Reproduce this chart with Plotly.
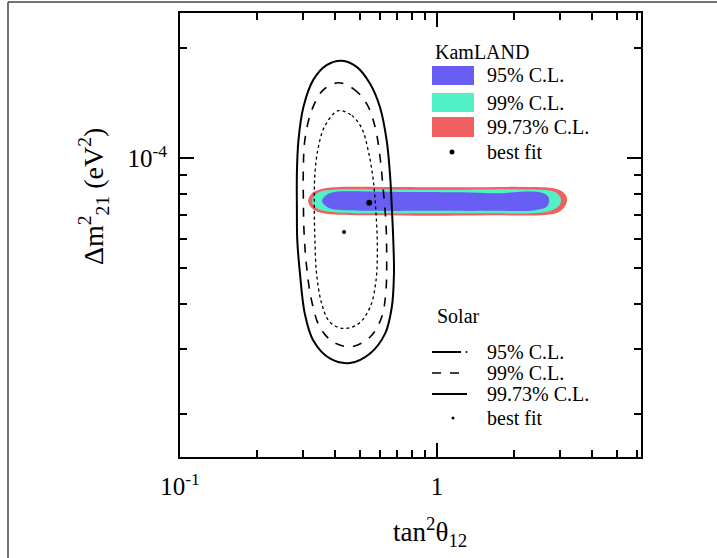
import plotly.graph_objects as go

# ---------------- data (tan^2 theta12, delta m^2_21 [eV^2]) ----------------
# Solar contours
solar9973_x = [0.426, 0.487, 0.549, 0.600, 0.637, 0.656, 0.667, 0.676, 0.680, 0.667, 0.628, 0.549,
               0.459, 0.383, 0.330, 0.306, 0.293, 0.286, 0.285, 0.285, 0.289, 0.302, 0.330, 0.372, 0.426]
solar9973_y = [1.85e-4, 1.78e-4, 1.60e-4, 1.38e-4, 1.12e-4, 9.08e-5, 7.36e-5, 5.96e-5, 4.83e-5, 3.91e-5,
               3.31e-5, 2.92e-5, 2.75e-5, 2.83e-5, 3.17e-5, 3.75e-5, 4.83e-5, 5.96e-5, 7.36e-5, 9.08e-5,
               1.12e-4, 1.38e-4, 1.64e-4, 1.80e-4, 1.85e-4]

solar99_x = [0.413, 0.473, 0.533, 0.574, 0.600, 0.618, 0.633, 0.637, 0.633, 0.609, 0.549, 0.466,
             0.395, 0.350, 0.325, 0.311, 0.304, 0.302, 0.302, 0.306, 0.325, 0.361, 0.413]
solar99_y = [1.61e-4, 1.55e-4, 1.41e-4, 1.22e-4, 1.01e-4, 8.17e-5, 6.63e-5, 5.37e-5, 4.35e-5, 3.67e-5,
             3.24e-5, 3.05e-5, 3.14e-5, 3.45e-5, 4.08e-5, 5.04e-5, 6.22e-5, 7.67e-5, 9.47e-5, 1.12e-4,
             1.35e-4, 1.54e-4, 1.61e-4]

solar95_x = [0.413, 0.466, 0.509, 0.540, 0.565, 0.579, 0.586, 0.579, 0.549, 0.494, 0.432, 0.383,
             0.356, 0.340, 0.335, 0.333, 0.335, 0.345, 0.367, 0.413]
solar95_y = [1.35e-4, 1.31e-4, 1.21e-4, 1.05e-4, 8.71e-5, 7.06e-5, 5.71e-5, 4.63e-5, 3.91e-5, 3.52e-5,
             3.42e-5, 3.56e-5, 4.00e-5, 4.83e-5, 5.96e-5, 7.36e-5, 9.08e-5, 1.07e-4, 1.23e-4, 1.35e-4]

solar_best = (0.435, 6.28e-5)

# KamLAND allowed regions
kam9973_x = [0.315, 0.326, 0.350, 0.401, 0.600, 1.229, 2.104, 2.753, 3.065, 3.205, 3.148, 2.957,
             2.632, 1.608, 0.939, 0.600, 0.401, 0.350, 0.326, 0.315]
kam9973_y = [7.63e-5, 8.02e-5, 8.22e-5, 8.33e-5, 8.35e-5, 8.33e-5, 8.35e-5, 8.30e-5, 8.12e-5, 7.77e-5,
             7.39e-5, 7.11e-5, 7.00e-5, 6.98e-5, 6.96e-5, 6.98e-5, 7.02e-5, 7.11e-5, 7.30e-5, 7.63e-5]

kam99_x = [0.326, 0.338, 0.360, 0.408, 0.600, 1.229, 2.104, 2.703, 2.931, 3.038, 2.984, 2.803,
           2.517, 1.608, 0.939, 0.600, 0.408, 0.360, 0.338, 0.326]
kam99_y = [7.63e-5, 7.97e-5, 8.15e-5, 8.22e-5, 8.22e-5, 8.20e-5, 8.22e-5, 8.17e-5, 8.02e-5, 7.72e-5,
           7.41e-5, 7.21e-5, 7.09e-5, 7.07e-5, 7.07e-5, 7.07e-5, 7.11e-5, 7.18e-5, 7.32e-5, 7.63e-5]

kam95_x = [0.357, 0.370, 0.394, 0.439, 0.600, 1.229, 1.759, 2.104, 2.517, 2.703, 2.728, 2.656,
           2.406, 1.608, 0.939, 0.600, 0.439, 0.394, 0.370, 0.357]
kam95_y = [7.63e-5, 7.92e-5, 8.07e-5, 8.12e-5, 8.10e-5, 8.07e-5, 8.02e-5, 8.10e-5, 8.07e-5, 7.87e-5,
           7.58e-5, 7.34e-5, 7.21e-5, 7.18e-5, 7.18e-5, 7.18e-5, 7.21e-5, 7.25e-5, 7.39e-5, 7.63e-5]

kam_best = (0.545, 7.56e-5)

# axes ticks
x_major = [0.1, 1]
x_major_text = ["10<sup>-1</sup>", "1"]
x_minor = [0.2, 0.3, 0.4, 0.5, 0.6, 0.7, 0.8, 0.9, 2, 3, 4, 5, 6]
y_major = [1e-4]
y_major_text = ["10<sup>-4</sup>"]
y_minor = [2e-5, 3e-5, 4e-5, 5e-5, 6e-5, 7e-5, 8e-5, 9e-5, 2e-4]

C95 = "rgb(104,94,244)"
C99 = "rgb(82,240,198)"
C9973 = "rgb(240,96,96)"
FONT = "Liberation Serif"

fig = go.Figure()

for xs, ys, col in [(kam9973_x, kam9973_y, C9973), (kam99_x, kam99_y, C99), (kam95_x, kam95_y, C95)]:
    fig.add_trace(go.Scatter(x=xs, y=ys, mode="lines", fill="toself", fillcolor=col,
                             line=dict(width=0, shape="spline", color=col), hoverinfo="skip"))

for xs, ys, dash, w in [(solar9973_x, solar9973_y, "solid", 2), (solar99_x, solar99_y, "dash", 1.6),
                        (solar95_x, solar95_y, "dot", 1.3)]:
    fig.add_trace(go.Scatter(x=xs, y=ys, mode="lines",
                             line=dict(color="black", width=w, dash=dash, shape="spline", smoothing=1.0),
                             hoverinfo="skip"))

fig.add_trace(go.Scatter(x=[kam_best[0]], y=[kam_best[1]], mode="markers",
                         marker=dict(color="black", size=6)))
fig.add_trace(go.Scatter(x=[solar_best[0]], y=[solar_best[1]], mode="markers",
                         marker=dict(color="black", size=4)))

# plot area in pixels: left 180, right 641, top 13, bottom 457
L, R, T, B = 180, 641, 13, 457
W, H = 717, 558


def px(x):
    return (x - L) / (R - L)


def py(y):
    return (B - y) / (B - T)


shapes = []
annotations = []

# KamLAND legend
annotations.append(dict(x=px(433), y=py(52), xref="paper", yref="paper", text="KamLAND",
                        showarrow=False, xanchor="left", yanchor="middle",
                        font=dict(family=FONT, size=20, color="black")))
for (y0, y1, col, lab) in [(66, 85, C95, "95% C.L."), (93, 112, C99, "99% C.L."),
                           (117, 137, C9973, "99.73% C.L.")]:
    shapes.append(dict(type="rect", xref="paper", yref="paper", x0=px(432), x1=px(474),
                       y0=py(y0), y1=py(y1), fillcolor=col, line=dict(width=0)))
    annotations.append(dict(x=px(485), y=py((y0 + y1) / 2), xref="paper", yref="paper", text=lab,
                            showarrow=False, xanchor="left", yanchor="middle",
                            font=dict(family=FONT, size=20, color="black")))
shapes.append(dict(type="circle", xref="paper", yref="paper", x0=px(449.5), x1=px(454.5),
                   y0=py(149.5), y1=py(154.5), fillcolor="black", line=dict(width=0)))
annotations.append(dict(x=px(485), y=py(152), xref="paper", yref="paper", text="best fit",
                        showarrow=False, xanchor="left", yanchor="middle",
                        font=dict(family=FONT, size=20, color="black")))

# Solar legend
annotations.append(dict(x=px(435), y=py(316), xref="paper", yref="paper", text="Solar",
                        showarrow=False, xanchor="left", yanchor="middle",
                        font=dict(family=FONT, size=20, color="black")))
shapes.append(dict(type="line", xref="paper", yref="paper", x0=px(432), x1=px(461),
                   y0=py(352), y1=py(352), line=dict(color="black", width=2)))
shapes.append(dict(type="circle", xref="paper", yref="paper", x0=px(465.5), x1=px(467.5),
                   y0=py(351), y1=py(353), fillcolor="black", line=dict(width=0)))
shapes.append(dict(type="line", xref="paper", yref="paper", x0=px(432), x1=px(467),
                   y0=py(373), y1=py(373), line=dict(color="black", width=1.6, dash="dash")))
shapes.append(dict(type="line", xref="paper", yref="paper", x0=px(432), x1=px(467),
                   y0=py(394), y1=py(394), line=dict(color="black", width=2)))
shapes.append(dict(type="circle", xref="paper", yref="paper", x0=px(451.5), x1=px(454.5),
                   y0=py(416.5), y1=py(419.5), fillcolor="black", line=dict(width=0)))
for yy, lab in [(352, "95% C.L."), (373, "99% C.L."), (394, "99.73% C.L."), (418, "best fit")]:
    annotations.append(dict(x=px(485), y=py(yy), xref="paper", yref="paper", text=lab,
                            showarrow=False, xanchor="left", yanchor="middle",
                            font=dict(family=FONT, size=20, color="black")))

# axis titles
annotations.append(dict(x=px(430), y=py(532), xref="paper", yref="paper",
                        text="tan<sup>2</sup>θ<sub>12</sub>", showarrow=False,
                        xanchor="center", yanchor="middle",
                        font=dict(family=FONT, size=27, color="black")))
annotations.append(dict(x=px(93), y=py(197), xref="paper", yref="paper",
                        text="Δm<sup>2</sup><sub>21</sub> (eV<sup>2</sup>)", showarrow=False,
                        textangle=-90, xanchor="center", yanchor="middle",
                        font=dict(family=FONT, size=28, color="black")))

# outer frame (left and top edges)
shapes.append(dict(type="line", xref="paper", yref="paper", x0=px(8), x1=px(8),
                   y0=py(2), y1=py(W), line=dict(color="#444", width=1.5)))
shapes.append(dict(type="line", xref="paper", yref="paper", x0=px(8), x1=px(717),
                   y0=py(2), y1=py(2), line=dict(color="#444", width=1.5)))

axis_common = dict(type="log", showgrid=False, zeroline=False, showline=True, linecolor="black",
                   linewidth=2, mirror="allticks", ticks="inside", ticklen=14, tickwidth=2,
                   tickcolor="black", tickfont=dict(family=FONT, size=25, color="black"))

fig.update_layout(
    width=W, height=H,
    margin=dict(l=L, r=W - R, t=T, b=H - B),
    paper_bgcolor="white", plot_bgcolor="white",
    showlegend=False,
    xaxis=dict(**axis_common, range=[-1, 0.7938], tickvals=x_major, ticktext=x_major_text,
               minor=dict(tickvals=x_minor, ticks="inside", ticklen=7, tickwidth=2, tickcolor="black"),
               ticklabelstandoff=6),
    yaxis=dict(**axis_common, range=[-4.818, -3.602], tickvals=y_major, ticktext=y_major_text,
               minor=dict(tickvals=y_minor, ticks="inside", ticklen=7, tickwidth=2, tickcolor="black"),
               ticklabelstandoff=6),
    shapes=shapes,
    annotations=annotations,
)

fig.write_html("out.html")
